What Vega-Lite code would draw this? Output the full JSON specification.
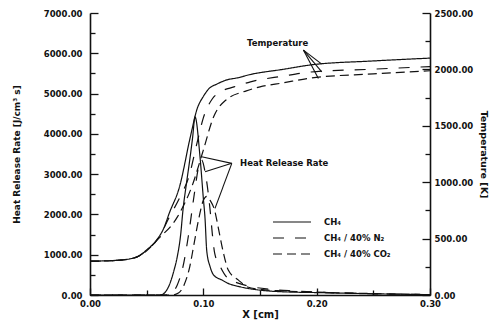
{
  "$schema": "https://vega.github.io/schema/vega-lite/v6.json",
  "width": 340,
  "height": 282,
  "autosize": "none",
  "padding": {"left": 90, "top": 13, "right": 68, "bottom": 26},
  "background": "white",
  "config": {
    "view": {"stroke": null},
    "font": "DejaVu Sans",
    "axis": {
      "domainColor": "#111", "domainWidth": 1.6, "tickColor": "#111", "tickWidth": 1.3,
      "labelFont": "DejaVu Sans", "labelFontWeight": "bold", "labelFontSize": 8.5, "labelColor": "#111",
      "titleFont": "DejaVu Sans", "titleFontWeight": "bold", "titleFontSize": 9, "titleColor": "#111",
      "grid": false
    }
  },
  "datasets": {
    "curves": [
      {"s": "CH₄", "q": "HRR", "x": 0.0, "v": 0},
      {"s": "CH₄", "q": "HRR", "x": 0.062, "v": 0},
      {"s": "CH₄", "q": "HRR", "x": 0.066, "v": 60},
      {"s": "CH₄", "q": "HRR", "x": 0.070, "v": 250},
      {"s": "CH₄", "q": "HRR", "x": 0.074, "v": 600},
      {"s": "CH₄", "q": "HRR", "x": 0.077, "v": 950},
      {"s": "CH₄", "q": "HRR", "x": 0.080, "v": 1500},
      {"s": "CH₄", "q": "HRR", "x": 0.082, "v": 2100},
      {"s": "CH₄", "q": "HRR", "x": 0.085, "v": 2750},
      {"s": "CH₄", "q": "HRR", "x": 0.088, "v": 3350},
      {"s": "CH₄", "q": "HRR", "x": 0.0905, "v": 3900},
      {"s": "CH₄", "q": "HRR", "x": 0.0927, "v": 4420},
      {"s": "CH₄", "q": "HRR", "x": 0.097, "v": 3450},
      {"s": "CH₄", "q": "HRR", "x": 0.100, "v": 2400},
      {"s": "CH₄", "q": "HRR", "x": 0.1015, "v": 1900},
      {"s": "CH₄", "q": "HRR", "x": 0.103, "v": 1100},
      {"s": "CH₄", "q": "HRR", "x": 0.106, "v": 700},
      {"s": "CH₄", "q": "HRR", "x": 0.109, "v": 500},
      {"s": "CH₄", "q": "HRR", "x": 0.1165, "v": 370},
      {"s": "CH₄", "q": "HRR", "x": 0.121, "v": 300},
      {"s": "CH₄", "q": "HRR", "x": 0.133, "v": 200},
      {"s": "CH₄", "q": "HRR", "x": 0.15, "v": 120},
      {"s": "CH₄", "q": "HRR", "x": 0.17, "v": 80},
      {"s": "CH₄", "q": "HRR", "x": 0.20, "v": 60},
      {"s": "CH₄", "q": "HRR", "x": 0.25, "v": 30},
      {"s": "CH₄", "q": "HRR", "x": 0.30, "v": 10},

      {"s": "CH₄ / 40% N₂", "q": "HRR", "x": 0.0, "v": 0},
      {"s": "CH₄ / 40% N₂", "q": "HRR", "x": 0.066, "v": 0},
      {"s": "CH₄ / 40% N₂", "q": "HRR", "x": 0.072, "v": 50},
      {"s": "CH₄ / 40% N₂", "q": "HRR", "x": 0.077, "v": 250},
      {"s": "CH₄ / 40% N₂", "q": "HRR", "x": 0.082, "v": 700},
      {"s": "CH₄ / 40% N₂", "q": "HRR", "x": 0.087, "v": 1500},
      {"s": "CH₄ / 40% N₂", "q": "HRR", "x": 0.092, "v": 2500},
      {"s": "CH₄ / 40% N₂", "q": "HRR", "x": 0.096, "v": 3200},
      {"s": "CH₄ / 40% N₂", "q": "HRR", "x": 0.0985, "v": 3350},
      {"s": "CH₄ / 40% N₂", "q": "HRR", "x": 0.1015, "v": 3060},
      {"s": "CH₄ / 40% N₂", "q": "HRR", "x": 0.104, "v": 2600},
      {"s": "CH₄ / 40% N₂", "q": "HRR", "x": 0.106, "v": 2100},
      {"s": "CH₄ / 40% N₂", "q": "HRR", "x": 0.108, "v": 1500},
      {"s": "CH₄ / 40% N₂", "q": "HRR", "x": 0.110, "v": 1040},
      {"s": "CH₄ / 40% N₂", "q": "HRR", "x": 0.115, "v": 700},
      {"s": "CH₄ / 40% N₂", "q": "HRR", "x": 0.121, "v": 430},
      {"s": "CH₄ / 40% N₂", "q": "HRR", "x": 0.13, "v": 300},
      {"s": "CH₄ / 40% N₂", "q": "HRR", "x": 0.14, "v": 220},
      {"s": "CH₄ / 40% N₂", "q": "HRR", "x": 0.16, "v": 140},
      {"s": "CH₄ / 40% N₂", "q": "HRR", "x": 0.18, "v": 100},
      {"s": "CH₄ / 40% N₂", "q": "HRR", "x": 0.20, "v": 70},
      {"s": "CH₄ / 40% N₂", "q": "HRR", "x": 0.25, "v": 30},
      {"s": "CH₄ / 40% N₂", "q": "HRR", "x": 0.30, "v": 10},

      {"s": "CH₄ / 40% CO₂", "q": "HRR", "x": 0.0, "v": 0},
      {"s": "CH₄ / 40% CO₂", "q": "HRR", "x": 0.072, "v": 0},
      {"s": "CH₄ / 40% CO₂", "q": "HRR", "x": 0.078, "v": 50},
      {"s": "CH₄ / 40% CO₂", "q": "HRR", "x": 0.083, "v": 250},
      {"s": "CH₄ / 40% CO₂", "q": "HRR", "x": 0.088, "v": 700},
      {"s": "CH₄ / 40% CO₂", "q": "HRR", "x": 0.092, "v": 1300},
      {"s": "CH₄ / 40% CO₂", "q": "HRR", "x": 0.096, "v": 1900},
      {"s": "CH₄ / 40% CO₂", "q": "HRR", "x": 0.100, "v": 2350},
      {"s": "CH₄ / 40% CO₂", "q": "HRR", "x": 0.103, "v": 2450},
      {"s": "CH₄ / 40% CO₂", "q": "HRR", "x": 0.106, "v": 2350},
      {"s": "CH₄ / 40% CO₂", "q": "HRR", "x": 0.110, "v": 2100},
      {"s": "CH₄ / 40% CO₂", "q": "HRR", "x": 0.113, "v": 1700},
      {"s": "CH₄ / 40% CO₂", "q": "HRR", "x": 0.1177, "v": 1050},
      {"s": "CH₄ / 40% CO₂", "q": "HRR", "x": 0.122, "v": 620},
      {"s": "CH₄ / 40% CO₂", "q": "HRR", "x": 0.131, "v": 370},
      {"s": "CH₄ / 40% CO₂", "q": "HRR", "x": 0.139, "v": 200},
      {"s": "CH₄ / 40% CO₂", "q": "HRR", "x": 0.15, "v": 140},
      {"s": "CH₄ / 40% CO₂", "q": "HRR", "x": 0.17, "v": 100},
      {"s": "CH₄ / 40% CO₂", "q": "HRR", "x": 0.20, "v": 70},
      {"s": "CH₄ / 40% CO₂", "q": "HRR", "x": 0.25, "v": 35},
      {"s": "CH₄ / 40% CO₂", "q": "HRR", "x": 0.30, "v": 10},

      {"s": "CH₄", "q": "T", "x": 0.0, "v": 300},
      {"s": "CH₄", "q": "T", "x": 0.02, "v": 305},
      {"s": "CH₄", "q": "T", "x": 0.035, "v": 320},
      {"s": "CH₄", "q": "T", "x": 0.042, "v": 340},
      {"s": "CH₄", "q": "T", "x": 0.05, "v": 400},
      {"s": "CH₄", "q": "T", "x": 0.059, "v": 490},
      {"s": "CH₄", "q": "T", "x": 0.065, "v": 590},
      {"s": "CH₄", "q": "T", "x": 0.07, "v": 727},
      {"s": "CH₄", "q": "T", "x": 0.079, "v": 960},
      {"s": "CH₄", "q": "T", "x": 0.0885, "v": 1400},
      {"s": "CH₄", "q": "T", "x": 0.0945, "v": 1650},
      {"s": "CH₄", "q": "T", "x": 0.1, "v": 1760},
      {"s": "CH₄", "q": "T", "x": 0.105, "v": 1830},
      {"s": "CH₄", "q": "T", "x": 0.112, "v": 1870},
      {"s": "CH₄", "q": "T", "x": 0.12, "v": 1905},
      {"s": "CH₄", "q": "T", "x": 0.13, "v": 1925},
      {"s": "CH₄", "q": "T", "x": 0.1416, "v": 1955},
      {"s": "CH₄", "q": "T", "x": 0.17, "v": 2000},
      {"s": "CH₄", "q": "T", "x": 0.195, "v": 2040},
      {"s": "CH₄", "q": "T", "x": 0.25, "v": 2075},
      {"s": "CH₄", "q": "T", "x": 0.30, "v": 2100},

      {"s": "CH₄ / 40% N₂", "q": "T", "x": 0.0, "v": 300},
      {"s": "CH₄ / 40% N₂", "q": "T", "x": 0.02, "v": 305},
      {"s": "CH₄ / 40% N₂", "q": "T", "x": 0.035, "v": 320},
      {"s": "CH₄ / 40% N₂", "q": "T", "x": 0.042, "v": 340},
      {"s": "CH₄ / 40% N₂", "q": "T", "x": 0.05, "v": 395},
      {"s": "CH₄ / 40% N₂", "q": "T", "x": 0.06, "v": 500},
      {"s": "CH₄ / 40% N₂", "q": "T", "x": 0.07, "v": 690},
      {"s": "CH₄ / 40% N₂", "q": "T", "x": 0.08, "v": 880},
      {"s": "CH₄ / 40% N₂", "q": "T", "x": 0.087, "v": 1040},
      {"s": "CH₄ / 40% N₂", "q": "T", "x": 0.0945, "v": 1350},
      {"s": "CH₄ / 40% N₂", "q": "T", "x": 0.1, "v": 1570},
      {"s": "CH₄ / 40% N₂", "q": "T", "x": 0.108, "v": 1740},
      {"s": "CH₄ / 40% N₂", "q": "T", "x": 0.115, "v": 1800},
      {"s": "CH₄ / 40% N₂", "q": "T", "x": 0.127, "v": 1845},
      {"s": "CH₄ / 40% N₂", "q": "T", "x": 0.1416, "v": 1890},
      {"s": "CH₄ / 40% N₂", "q": "T", "x": 0.17, "v": 1940},
      {"s": "CH₄ / 40% N₂", "q": "T", "x": 0.195, "v": 1977},
      {"s": "CH₄ / 40% N₂", "q": "T", "x": 0.25, "v": 2002},
      {"s": "CH₄ / 40% N₂", "q": "T", "x": 0.30, "v": 2025},

      {"s": "CH₄ / 40% CO₂", "q": "T", "x": 0.0, "v": 300},
      {"s": "CH₄ / 40% CO₂", "q": "T", "x": 0.02, "v": 305},
      {"s": "CH₄ / 40% CO₂", "q": "T", "x": 0.035, "v": 320},
      {"s": "CH₄ / 40% CO₂", "q": "T", "x": 0.042, "v": 340},
      {"s": "CH₄ / 40% CO₂", "q": "T", "x": 0.05, "v": 392},
      {"s": "CH₄ / 40% CO₂", "q": "T", "x": 0.06, "v": 495},
      {"s": "CH₄ / 40% CO₂", "q": "T", "x": 0.077, "v": 690},
      {"s": "CH₄ / 40% CO₂", "q": "T", "x": 0.091, "v": 993},
      {"s": "CH₄ / 40% CO₂", "q": "T", "x": 0.1, "v": 1285},
      {"s": "CH₄ / 40% CO₂", "q": "T", "x": 0.109, "v": 1578},
      {"s": "CH₄ / 40% CO₂", "q": "T", "x": 0.12, "v": 1729},
      {"s": "CH₄ / 40% CO₂", "q": "T", "x": 0.138, "v": 1810},
      {"s": "CH₄ / 40% CO₂", "q": "T", "x": 0.15, "v": 1845},
      {"s": "CH₄ / 40% CO₂", "q": "T", "x": 0.17, "v": 1880},
      {"s": "CH₄ / 40% CO₂", "q": "T", "x": 0.195, "v": 1924},
      {"s": "CH₄ / 40% CO₂", "q": "T", "x": 0.25, "v": 1960},
      {"s": "CH₄ / 40% CO₂", "q": "T", "x": 0.30, "v": 1988}
    ],
    "arrows": [
      {"x": 0.1883, "y": 6079, "x2": 0.2045, "y2": 5732},
      {"x": 0.1883, "y": 6079, "x2": 0.2045, "y2": 5541},
      {"x": 0.1883, "y": 6079, "x2": 0.2015, "y2": 5377},
      {"x": 0.1251, "y": 3268, "x2": 0.0985, "y2": 3432},
      {"x": 0.1251, "y": 3268, "x2": 0.1015, "y2": 3060},
      {"x": 0.1251, "y": 3268, "x2": 0.1103, "y2": 2151}
    ],
    "notes": [
      {"x": 0.1386, "y": 6253, "label": "Temperature"},
      {"x": 0.1324, "y": 3270, "label": "Heat Release Rate"}
    ]
  },
  "layer": [
    {
      "data": {"name": "curves"},
      "transform": [{"filter": "datum.q === 'HRR'"}],
      "mark": {"type": "line", "interpolate": "monotone", "color": "#111", "strokeWidth": 1.2},
      "encoding": {
        "x": {"field": "x", "type": "quantitative", "scale": {"domain": [0, 0.3], "nice": false},
          "axis": {"title": "X [cm]", "titleFontSize": 10, "titlePadding": 2,
            "values": [0, 0.05, 0.1, 0.15, 0.2, 0.25, 0.3],
            "labelExpr": "round(datum.value*20) % 2 === 0 ? format(datum.value, '.2f') : ''",
            "tickSize": {"condition": {"test": "round(datum.value*20) % 2 === 0", "value": -7}, "value": -5},
            "labelPadding": 11, "labelFlush": false}},
        "y": {"field": "v", "type": "quantitative", "scale": {"domain": [0, 7000], "nice": false},
          "axis": {"title": "Heat Release Rate [J/cm³ s]", "orient": "left",
            "values": [0, 500, 1000, 1500, 2000, 2500, 3000, 3500, 4000, 4500, 5000, 5500, 6000, 6500, 7000],
            "labelExpr": "datum.value % 1000 === 0 ? format(datum.value, '.2f') : ''",
            "tickSize": {"condition": {"test": "datum.value % 1000 === 0", "value": -8}, "value": -5},
            "labelPadding": 16, "titlePadding": 22}},
        "strokeDash": {"field": "s", "type": "nominal",
          "scale": {"domain": ["CH₄", "CH₄ / 40% N₂", "CH₄ / 40% CO₂"], "range": [[1, 0], [11, 11], [9, 5]]},
          "legend": {"title": null, "orient": "none", "legendX": 182, "legendY": 202,
            "symbolType": "stroke", "symbolSize": 1444, "symbolStrokeWidth": 1.2, "symbolStrokeColor": "#111",
            "labelFont": "DejaVu Sans", "labelFontWeight": "bold", "labelFontSize": 8.5, "labelColor": "#111",
            "labelOffset": 12, "clipHeight": 14, "rowPadding": 2}}
      }
    },
    {
      "data": {"name": "curves"},
      "transform": [{"filter": "datum.q === 'T'"}],
      "mark": {"type": "line", "interpolate": "monotone", "color": "#111", "strokeWidth": 1.2},
      "encoding": {
        "x": {"field": "x", "type": "quantitative"},
        "y": {"field": "v", "type": "quantitative", "scale": {"domain": [0, 2500], "nice": false},
          "axis": {"title": "Temperature [K]", "orient": "right", "titleAngle": 90, "titleFontSize": 9.5,
            "values": [0, 250, 500, 750, 1000, 1250, 1500, 1750, 2000, 2250, 2500],
            "labelExpr": "datum.value % 500 === 0 ? format(datum.value, '.2f') : ''",
            "tickSize": {"condition": {"test": "datum.value % 500 === 0", "value": -8}, "value": -5},
            "labelPadding": 12, "titlePadding": 6}},
        "strokeDash": {"field": "s", "type": "nominal"}
      }
    },
    {
      "data": {"name": "arrows"},
      "mark": {"type": "rule", "color": "#111", "strokeWidth": 1.1},
      "encoding": {
        "x": {"field": "x", "type": "quantitative"},
        "x2": {"field": "x2"},
        "y": {"field": "y", "type": "quantitative", "scale": {"domain": [0, 7000], "nice": false}, "axis": null},
        "y2": {"field": "y2"}
      }
    },
    {
      "data": {"name": "notes"},
      "mark": {"type": "text", "align": "left", "baseline": "middle", "font": "DejaVu Sans", "fontWeight": "bold", "fontSize": 8.5, "color": "#111"},
      "encoding": {
        "x": {"field": "x", "type": "quantitative"},
        "y": {"field": "y", "type": "quantitative", "scale": {"domain": [0, 7000], "nice": false}, "axis": null},
        "text": {"field": "label"}
      }
    }
  ],
  "resolve": {"scale": {"y": "independent"}}
}
